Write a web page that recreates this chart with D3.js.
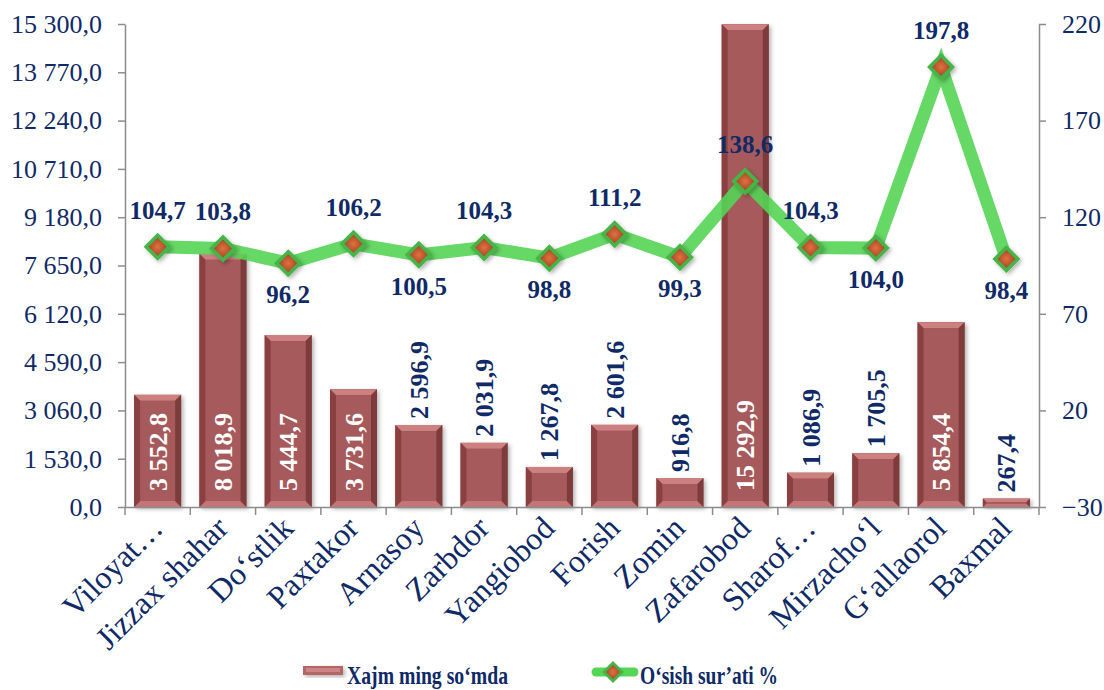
<!DOCTYPE html>
<html><head><meta charset="utf-8">
<script src="https://cdn.jsdelivr.net/npm/d3@7/dist/d3.min.js"></script>
<style>body{margin:0;background:#fff}svg{display:block}</style>
</head><body>
<svg id="c" width="1104" height="690"></svg>
<script>
const categories = ["Viloyat…","Jizzax shahar","Do‘stlik","Paxtakor","Arnasoy","Zarbdor","Yangiobod","Forish","Zomin","Zafarobod","Sharof…","Mirzacho‘l","G‘allaorol","Baxmal"];
const volumeValues = [3552.8,8018.9,5444.7,3731.6,2596.9,2031.9,1267.8,2601.6,916.8,15292.9,1086.9,1705.5,5854.4,267.4];
const growthValues = [104.7,103.8,96.2,106.2,100.5,104.3,98.8,111.2,99.3,138.6,104.3,104.0,197.8,98.4];
const growthLabelPos = ["above","above","below","above","below","above","below","above","below","above","above","below","above","below"];
const leftTicks = [0,1530,3060,4590,6120,7650,9180,10710,12240,13770,15300];
const rightTicks = [-30,20,70,120,170,220];
const legendLabels = ["Xajm ming so‘mda","O‘sish sur’ati %"];

const navy = "#0f2a66";
const serif = "Liberation Serif";
const loc = d3.formatLocale({decimal:",", thousands:" ", grouping:[3], currency:["",""]});
const fmt = loc.format(",.1f");

const svg = d3.select("#c");
const L = 125, R = 1039, T = 24, B = 507;

const defs = svg.append("defs");
const sh = defs.append("filter").attr("id","sh").attr("x","-20%").attr("y","-20%").attr("width","150%").attr("height","150%");
sh.append("feDropShadow").attr("dx",2).attr("dy",2).attr("stdDeviation",2).attr("flood-color","#000").attr("flood-opacity",0.3);
const mg = defs.append("radialGradient").attr("id","mk");
mg.append("stop").attr("offset","0%").attr("stop-color","#e0733c");
mg.append("stop").attr("offset","100%").attr("stop-color","#a9472a");

const x = d3.scaleBand().domain(categories).range([L,R]).paddingInner(0.28).paddingOuter(0.14);
const xc = d3.scaleBand().domain(categories).range([L,R]);
const yL = d3.scaleLinear().domain([0,15300]).range([B,T]);
const yR = d3.scaleLinear().domain([-30,220]).range([B,T]);

// axes
const axL = svg.append("g").attr("transform",`translate(${L},0)`)
  .call(d3.axisLeft(yL).tickValues(leftTicks).tickFormat(fmt).tickSize(7).tickPadding(16).tickSizeOuter(0));
const axR = svg.append("g").attr("transform",`translate(${R},0)`)
  .call(d3.axisRight(yR).tickValues(rightTicks).tickFormat(d3.format("d")).tickSize(7).tickPadding(16).tickSizeOuter(0));
[axL,axR].forEach(a=>{
  a.attr("font-family",serif);
  a.selectAll("path,line").attr("stroke","#8c8c8c").attr("stroke-width",1.5);
  a.selectAll("text").attr("fill",navy).attr("font-family",serif).attr("font-size",26);
});
axR.selectAll("text").attr("text-anchor","start");

// bars
const bars = svg.append("g").selectAll("g").data(categories).join("g").attr("filter","url(#sh)");
bars.each(function(c,i){
  const g = d3.select(this);
  const x0 = x(c), w = x.bandwidth(), y0 = yL(volumeValues[i]), h = B - y0;
  const b = Math.min(6, h/2.5);
  g.append("rect").attr("x",x0).attr("y",y0).attr("width",w).attr("height",h).attr("fill","#924848");
  g.append("polygon").attr("points",`${x0},${y0} ${x0+w},${y0} ${x0+w-b},${y0+b} ${x0+b},${y0+b}`).attr("fill","#cd8080");
  g.append("polygon").attr("points",`${x0},${B} ${x0+w},${B} ${x0+w-b},${B-b} ${x0+b},${B-b}`).attr("fill","#c47474");
  g.append("polygon").attr("points",`${x0},${y0} ${x0+b},${y0+b} ${x0+b},${B-b} ${x0},${B}`).attr("fill","#8a4141");
  g.append("polygon").attr("points",`${x0+w},${y0} ${x0+w-b},${y0+b} ${x0+w-b},${B-b} ${x0+w},${B}`).attr("fill","#7e3a3a");
  g.append("rect").attr("x",x0+b).attr("y",y0+b).attr("width",Math.max(0,w-2*b)).attr("height",Math.max(0,h-2*b)).attr("fill","#a65a5b");
});

// bottom axis
const axB = svg.append("g").attr("transform",`translate(0,${B})`)
  .call(d3.axisBottom(xc).tickSize(0).tickFormat(""));
axB.select("path").attr("stroke","#8c8c8c").attr("stroke-width",1.5);
axB.selectAll(".tick").remove();
axB.selectAll("line.sep").data(d3.range(categories.length+1)).join("line")
  .attr("x1",d=>L+d*xc.step()).attr("x2",d=>L+d*xc.step()).attr("y1",0).attr("y2",8)
  .attr("stroke","#8c8c8c").attr("stroke-width",1.5);

// x labels
svg.append("g").selectAll("text").data(categories).join("text")
  .attr("transform",c=>`translate(${xc(c)+xc.bandwidth()/2+7},${B+23}) rotate(-45)`)
  .attr("text-anchor","end").attr("fill",navy).attr("font-family",serif).attr("font-size",32)
  .text(c=>c);

// bar labels
svg.append("g").selectAll("text").data(categories).join("text")
  .each(function(c,i){
    const v = volumeValues[i];
    const inside = v > 3000;
    const cx = x(c)+x.bandwidth()/2;
    const yy = inside ? B-16 : yL(v)-6;
    d3.select(this).attr("transform",`translate(${cx},${yy}) rotate(-90)`)
      .attr("fill", inside ? "#ffffff" : navy);
  })
  .attr("dy","0.35em").attr("text-anchor","start").attr("font-family",serif)
  .attr("font-weight","bold").attr("font-size",26).text((c,i)=>fmt(volumeValues[i]));

// line
const cxOf = (c)=>xc(c)+xc.bandwidth()/2;
const line = d3.line().x((d,i)=>cxOf(categories[i])).y(d=>yR(d));
svg.append("path").datum(growthValues).attr("d",line).attr("fill","none")
  .attr("stroke","#55d455").attr("stroke-opacity",0.9).attr("stroke-width",13).attr("stroke-linejoin","miter");

const mk = svg.append("g").selectAll("g").data(growthValues).join("g")
  .attr("transform",(d,i)=>`translate(${cxOf(categories[i])},${yR(d)})`).attr("filter","url(#sh)");
mk.append("path").attr("d","M0,-14L14,0L0,14L-14,0Z").attr("fill","#46b446");
mk.append("path").attr("d","M0,-9L9,0L0,9L-9,0Z").attr("fill","url(#mk)");

svg.append("g").selectAll("text").data(growthValues).join("text")
  .attr("x",(d,i)=>cxOf(categories[i]))
  .attr("y",(d,i)=>yR(d) + (growthLabelPos[i]==="above" ? -37 : 31))
  .attr("dy","0.35em").attr("text-anchor","middle").attr("fill",navy)
  .attr("font-family",serif).attr("font-weight","bold").attr("font-size",25)
  .text(d=>fmt(d));

// legend
const lg = svg.append("g");
const lg1 = lg.append("g").attr("filter","url(#sh)");
lg1.append("rect").attr("x",303).attr("y",666).attr("width",40).attr("height",9).attr("fill","#b56666");
lg1.append("rect").attr("x",306).attr("y",668).attr("width",34).attr("height",4).attr("fill","#cf8585");
lg.append("text").attr("x",347).attr("y",684).attr("fill",navy).attr("font-family",serif)
  .attr("font-weight","bold").attr("font-size",26).attr("textLength",161).attr("lengthAdjust","spacingAndGlyphs")
  .text(legendLabels[0]);
lg.append("line").attr("x1",596).attr("x2",634).attr("y1",672).attr("y2",672)
  .attr("stroke","#55d455").attr("stroke-width",9).attr("stroke-linecap","round");
const lm = lg.append("g").attr("transform","translate(613,672)");
lm.append("path").attr("d","M0,-11L11,0L0,11L-11,0Z").attr("fill","#46b446");
lm.append("path").attr("d","M0,-7L7,0L0,7L-7,0Z").attr("fill","url(#mk)");
lg.append("text").attr("x",640).attr("y",684).attr("fill",navy).attr("font-family",serif)
  .attr("font-weight","bold").attr("font-size",26).attr("textLength",138).attr("lengthAdjust","spacingAndGlyphs")
  .text(legendLabels[1]);
</script>
</body></html>
